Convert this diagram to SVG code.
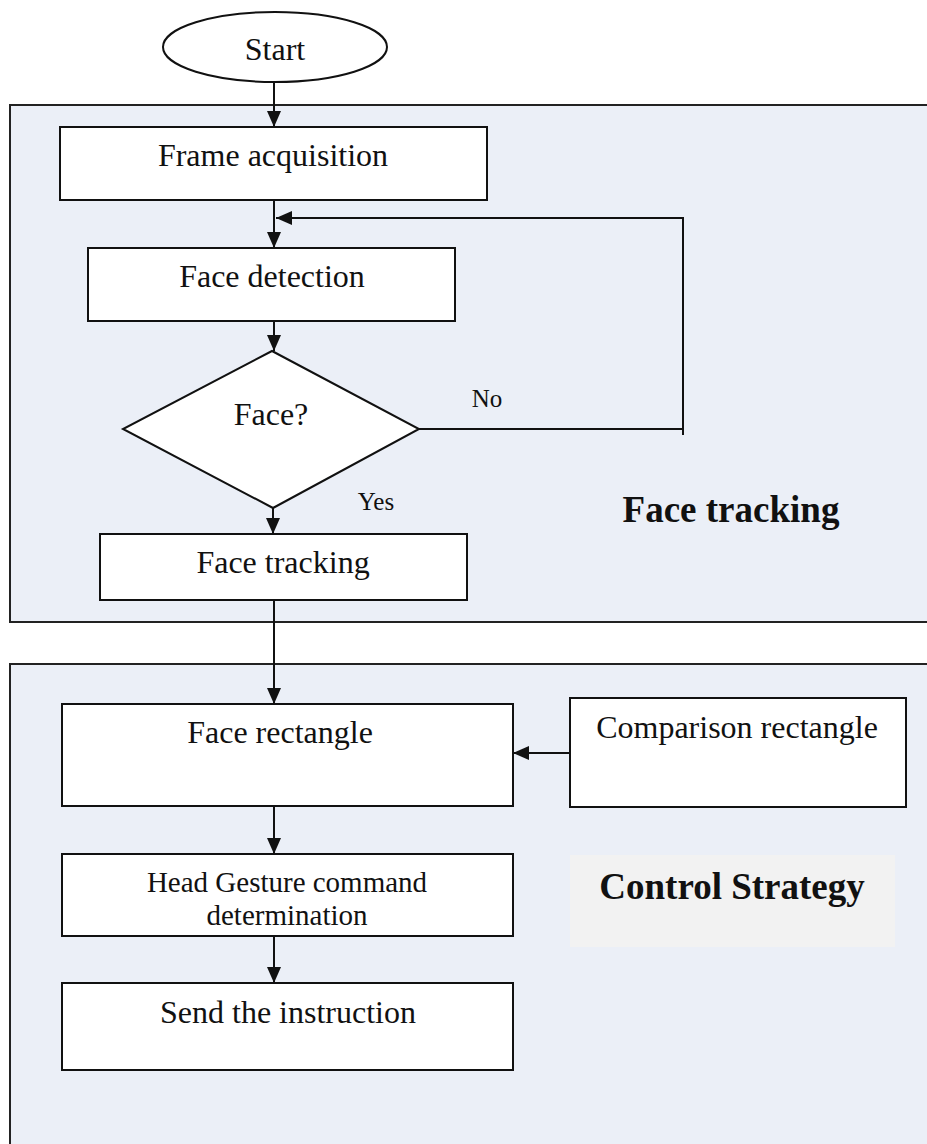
<svg xmlns="http://www.w3.org/2000/svg" width="927" height="1144" viewBox="0 0 927 1144">
<style>
.panel{fill:#ebeff7;stroke:#222;stroke-width:2}
.box{fill:#fff;stroke:#111;stroke-width:2}
.t{font-family:"Liberation Serif","Times New Roman",serif;font-size:32px;fill:#111;text-anchor:middle}
.s{font-family:"Liberation Serif","Times New Roman",serif;font-size:25px;fill:#111;text-anchor:middle}
.b{font-family:"Liberation Serif","Times New Roman",serif;font-size:37px;font-weight:bold;fill:#111;text-anchor:middle}
.c{fill:none;stroke:#111;stroke-width:2}
</style>
<defs>
<marker id="ah" markerUnits="userSpaceOnUse" markerWidth="16" markerHeight="14" refX="16" refY="7" orient="auto">
<path d="M0,0 L16,7 L0,14 z" fill="#111"/>
</marker>
</defs>
<rect width="927" height="1144" fill="#fff"/>
<g id="panel-face-tracking">
<rect class="panel" x="10" y="105" width="930" height="517"/>
<text class="b" x="731" y="522">Face tracking</text>
</g>
<g id="panel-control-strategy">
<rect class="panel" x="10" y="664" width="930" height="500"/>
<rect x="570" y="855" width="325" height="92" fill="#f2f2f2"/>
<text class="b" x="732" y="899">Control Strategy</text>
</g>
<g id="connectors">
<line class="c" x1="274" y1="82" x2="274" y2="127" marker-end="url(#ah)"/>
<line class="c" x1="274" y1="200" x2="274" y2="248" marker-end="url(#ah)"/>
<line class="c" x1="274" y1="321" x2="274" y2="351" marker-end="url(#ah)"/>
<polyline class="c" points="419,429 683,429"/>
<polyline class="c" points="683,435 683,218 276,218" marker-end="url(#ah)"/>
<line class="c" x1="273" y1="508" x2="273" y2="534" marker-end="url(#ah)"/>
<line class="c" x1="274" y1="600" x2="274" y2="704" marker-end="url(#ah)"/>
<line class="c" x1="570" y1="753" x2="513" y2="753" marker-end="url(#ah)"/>
<line class="c" x1="274" y1="806" x2="274" y2="854" marker-end="url(#ah)"/>
<line class="c" x1="274" y1="936" x2="274" y2="983" marker-end="url(#ah)"/>
<text class="s" x="487" y="407">No</text>
<text class="s" x="376" y="510">Yes</text>
</g>
<g id="start">
<ellipse class="box" cx="275" cy="47" rx="112" ry="35"/>
<text class="t" x="275" y="60">Start</text>
</g>
<g id="frame-acquisition">
<rect class="box" x="60" y="127" width="427" height="73"/>
<text class="t" x="273" y="166">Frame acquisition</text>
</g>
<g id="face-detection">
<rect class="box" x="88" y="248" width="367" height="73"/>
<text class="t" x="272" y="287">Face detection</text>
</g>
<g id="face-decision">
<polygon class="box" points="272,351 419,429 273,508 123,429"/>
<text class="t" x="271" y="425">Face?</text>
</g>
<g id="face-tracking">
<rect class="box" x="100" y="534" width="367" height="66"/>
<text class="t" x="283" y="573">Face tracking</text>
</g>
<g id="face-rectangle">
<rect class="box" x="62" y="704" width="451" height="102"/>
<text class="t" x="280" y="743">Face rectangle</text>
</g>
<g id="comparison-rectangle">
<rect class="box" x="570" y="698" width="336" height="109"/>
<text class="t" x="737" y="738">Comparison rectangle</text>
</g>
<g id="head-gesture">
<rect class="box" x="62" y="854" width="451" height="82"/>
<text class="t" x="287" y="892" style="font-size:29px">Head Gesture command</text>
<text class="t" x="287" y="925" style="font-size:29px">determination</text>
</g>
<g id="send-instruction">
<rect class="box" x="62" y="983" width="451" height="87"/>
<text class="t" x="288" y="1023">Send the instruction</text>
</g>
</svg>
